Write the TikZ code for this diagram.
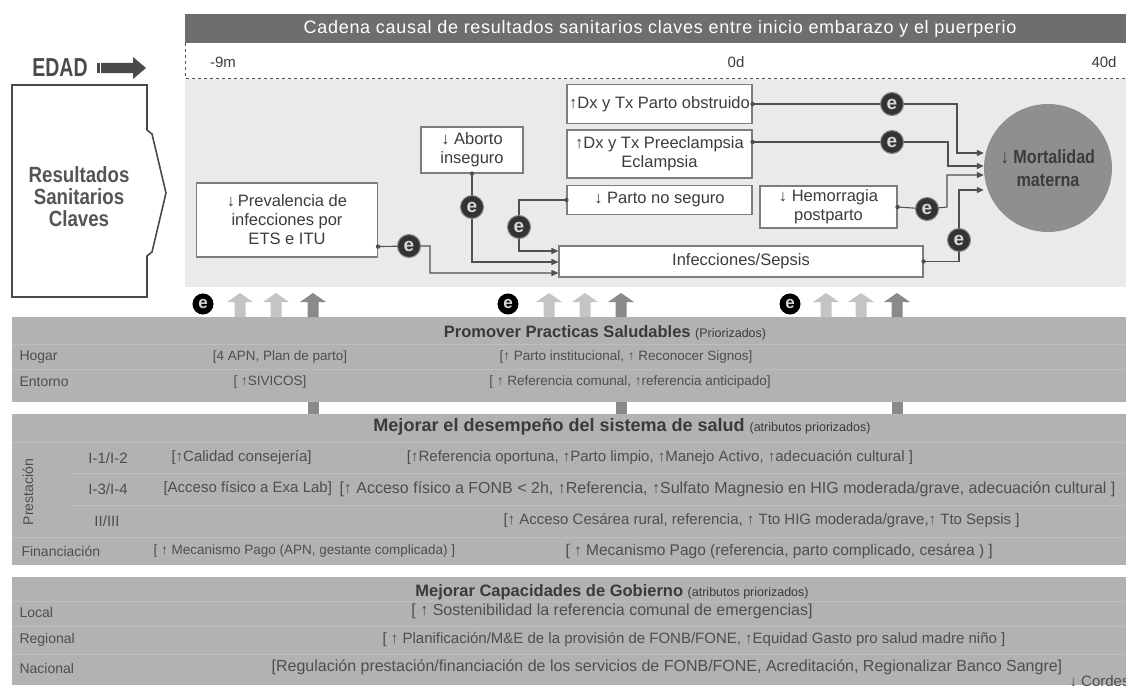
\documentclass[tikz,border=0pt]{standalone}
\usepackage{fontspec}
\setmainfont{Liberation Sans}
\newfontfamily\condfont[FakeStretch=0.75]{Liberation Sans}
\newfontfamily\resfont[FakeStretch=0.85]{Liberation Sans}
\usetikzlibrary{arrows.meta,calc}

\definecolor{barra}{HTML}{6E6E6E}
\definecolor{fondosup}{HTML}{EAEAEA}
\definecolor{bordecaja}{HTML}{7D7D7D}
\definecolor{textocaja}{HTML}{3C3C3C}
\definecolor{conector}{HTML}{505050}
\definecolor{ecolor}{HTML}{333333}
\definecolor{eletra}{HTML}{D8D8D8}
\definecolor{mortcolor}{HTML}{8F8F8F}
\definecolor{panelgris}{HTML}{B2B2B2}
\definecolor{lineafila}{HTML}{BEBEBE}
\definecolor{titulogris}{HTML}{3A3A3A}
\definecolor{textofila}{HTML}{4E4E4E}
\definecolor{flechaclara}{HTML}{C4C4C4}
\definecolor{flechaoscura}{HTML}{8A8A8A}
\definecolor{resborde}{HTML}{4A4A4A}
\definecolor{restexto}{HTML}{555555}
\newcommand{\prio}[1]{{\mdseries\fontsize{12.5}{12.5}\selectfont #1}}

\begin{document}
\begin{tikzpicture}[x=1pt,y=-1pt,>={Triangle[length=7pt,width=6pt]},
	caja/.style={draw=bordecaja,fill=white,line width=1.1pt,align=center,inner sep=2pt,text=textocaja,font=\fontsize{16.5}{19}\selectfont},
	enodo/.style={circle,fill=ecolor,draw=ecolor!60!white,line width=1pt,minimum size=23pt,inner sep=0pt,text=eletra,font=\bfseries\fontsize{19}{19}\selectfont},
	epeq/.style={enodo,fill=black,draw=black,minimum size=20pt,font=\bfseries\fontsize{17}{17}\selectfont},
	conn/.style={draw=conector,line width=1.1pt},
	fila/.style={text=textofila,font=\fontsize{15}{15}\selectfont},
	filap/.style={text=textofila,font=\fontsize{13.5}{13.5}\selectfont},
	etiq/.style={anchor=west,text=textofila,font=\fontsize{14}{14}\selectfont},
	titulo/.style={text=titulogris,font=\bfseries\fontsize{16.5}{16.5}\selectfont}]
	\useasboundingbox (0,0) rectangle (1126,685);
	% cabecera y linea de tiempo
	\fill[barra] (185,14) rectangle (1126,43);
	\node[text=white,font=\fontsize{18}{18}\selectfont\addfontfeature{LetterSpace=4}] (cadena) at (660,28.5) {Cadena causal de resultados sanitarios claves entre inicio embarazo y el puerperio};
	\draw[conector,dashed,line width=0.8pt] (185,43) -- (185,78) -- (1126,78);
	\node[text=textocaja,font=\fontsize{15}{15}\selectfont] (t9m) at (223,62) {-9m};
	\node[text=textocaja,font=\fontsize{15}{15}\selectfont] (t0d) at (736,62) {0d};
	\node[text=textocaja,font=\fontsize{15}{15}\selectfont] (t40d) at (1104,62) {40d};
	\fill[fondosup] (185,79) rectangle (1126,287);
	% edad y resultados
	\node[text=resborde,font=\condfont\bfseries\fontsize{26}{26}\selectfont] (edad) at (60,68) {EDAD};
	\fill[resborde] (97,63) rectangle (99.5,73);
	\fill[resborde] (101,63) -- (133,63) -- (133,57) -- (146,68) -- (133,79) -- (133,73) -- (101,73) -- cycle;
	\draw[draw=resborde,fill=white,line width=1.6pt] (12,85) -- (147,85) -- (147,130) -- (152,134) -- (166,193) -- (152,252) -- (147,256) -- (147,297) -- (12,297) -- cycle;
	\node[text=restexto,align=center,font=\resfont\bfseries\fontsize{22}{22}\selectfont] (result) at (79,197) {Resultados\\Sanitarios\\Claves};
	% cajas de la cadena causal
	\node[caja,minimum width=181,minimum height=74] (prev) at (287,220) {↓\,Prevalencia de\\infecciones por\\ETS e ITU};
	\node[caja,minimum width=102,minimum height=46] (abort) at (472,150) {↓ Aborto\\inseguro};
	\node[caja,minimum width=185,minimum height=39] (obstr) at (659.5,104) {↑Dx y Tx Parto obstruido};
	\node[caja,minimum width=185,minimum height=48] (preec) at (659.5,154) {↑Dx y Tx Preeclampsia\\Eclampsia};
	\node[caja,minimum width=185,minimum height=29] (noseg) at (659.5,200) {↓ Parto no seguro};
	\node[caja,minimum width=137,minimum height=42] (hemo) at (828.5,207) {↓ Hemorragia\\postparto};
	\node[caja,minimum width=364,minimum height=31] (infec) at (741,261.5) {Infecciones/Sepsis};
	\node[circle,fill=mortcolor,minimum size=128,inner sep=0pt,align=center,text=textocaja,font=\resfont\bfseries\fontsize{19}{23}\selectfont] (mort) at (1048,168) {↓ Mortalidad\\materna};
	% nodos e
	\node[enodo] (e1) at (409,246) {e};
	\node[enodo] (e2) at (472,207) {e};
	\node[enodo] (e3) at (519,227) {e};
	\node[enodo] (e4) at (892,104) {e};
	\node[enodo] (e5) at (892,142) {e};
	\node[enodo] (e6) at (927,209) {e};
	\node[enodo] (e7) at (959,240) {e};
	% conectores
	\coordinate (p1) at ($(prev.south east)+(0,-11)$);
	\coordinate (p5) at ($(preec.east)+(0,-12)$);
	\coordinate (c1a) at (430,246);
	\coordinate (c1b) at (430,273);
	\coordinate (c2) at (472,262);
	\coordinate (c3a) at (519,200);
	\coordinate (c3b) at (519,251);
	\coordinate (c4a) at (957,104);
	\coordinate (c4b) at (957,153);
	\coordinate (c5a) at (948,142);
	\coordinate (c5b) at (948,166);
	\coordinate (c6a) at (947,207);
	\coordinate (c6b) at (947,175);
	\coordinate (c7a) at (959,261.5);
	\coordinate (c7b) at (959,190);
	\draw[conn,->] (p1) -- (e1) -- (c1a) -- (c1b) -- (infec.west |- c1b);
	\draw[conn,->] (abort.south) -- (e2) -- (c2) -- (infec.west |- c2);
	\draw[conn,->] (noseg.west) -- (c3a) -- (e3) -- (c3b) -- (infec.west |- c3b);
	\draw[conn,->] (obstr.east) -- (e4) -- (c4a) -- (c4b) -- (c4b -| mort.west);
	\draw[conn,->] (p5) -- (e5) -- (c5a) -- (c5b) -- (c5b -| mort.west);
	\draw[conn,->] (hemo.east) -- (e6) -- (c6a) -- (c6b) -- (c6b -| mort.west);
	\draw[conn,->] (infec.east) -- (c7a) -- (e7) -- (c7b) -- (c7b -| mort.west);
	\foreach \p in {p1,abort.south,noseg.west,obstr.east,p5,hemo.east,infec.east}
		\fill[conector] (\p) circle (2.2);
	% paneles inferiores
	\fill[panelgris] (12,317) rectangle (1126,402);
	\fill[panelgris] (12,414) rectangle (1126,565);
	\fill[panelgris] (12,577) rectangle (1126,685);
	\draw[lineafila,line width=0.8pt] (12,344) -- (1126,344) (12,369) -- (1126,369)
		(12,442) -- (1126,442) (73,473) -- (1126,473) (73,505) -- (1126,505) (12,537) -- (1126,537)
		(12,601) -- (1126,601) (12,626) -- (1126,626) (12,654) -- (1126,654);
	% flechas hacia arriba
	\foreach \ax/\ac in {240/flechaclara,276/flechaclara,313/flechaoscura,549/flechaclara,585/flechaclara,621/flechaoscura,826/flechaclara,861/flechaclara,897/flechaoscura}
		\fill[\ac] (\ax-5.5,317) -- (\ax-5.5,302) -- (\ax-13,302) -- (\ax,293) -- (\ax+13,302) -- (\ax+5.5,302) -- (\ax+5.5,317) -- cycle;
	\foreach \ax in {313,621,897}
		\fill[flechaoscura] (\ax-5.5,402) rectangle (\ax+5.5,414);
	\node[epeq] (eb1) at (203,304) {e};
	\node[epeq] (eb2) at (508,304) {e};
	\node[epeq] (eb3) at (790,304) {e};
	% textos panel 1
	\node[titulo] (tit1) at (605,333) {Promover Practicas Saludables \prio{(Priorizados)}};
	\node[etiq] (hogar) at (16,357) {Hogar};
	\node[filap] (hog1) at (280,357) {[4 APN, Plan de parto]};
	\node[filap] (hog2) at (626,357) {[↑ Parto institucional, ↑ Reconocer Signos]};
	\node[etiq] (entorno) at (16,382) {Entorno};
	\node[filap] (ent1) at (270,382) {[ ↑SIVICOS]};
	\node[filap] (ent2) at (630,382) {[ ↑ Referencia comunal, ↑referencia anticipado]};
	% textos panel 2
	\node[titulo,font=\bfseries\fontsize{18}{18}\selectfont] (tit2) at (622,427) {Mejorar el desempeño del sistema de salud \prio{(atributos priorizados)}};
	\node[etiq,rotate=90,anchor=center] (prest) at (28,492) {Prestación};
	\node[fila] (n12) at (108,458) {I-1/I-2};
	\node[fila,anchor=west] (n12a) at (168,458) {[↑Calidad consejería]};
	\node[fila] (n12b) at (660,458) {[↑Referencia oportuna, ↑Parto limpio, ↑Manejo Activo, ↑adecuación cultural ]};
	\node[fila] (n34) at (108,489) {I-3/I-4};
	\node[fila,anchor=west] (n34a) at (160,489) {[Acceso físico a  Exa Lab]};
	\node[fila,anchor=west,font=\fontsize{16}{16}\selectfont] (n34b) at (336,489) {[↑ Acceso físico a FONB < 2h, ↑Referencia, ↑Sulfato Magnesio en HIG moderada/grave, adecuación cultural ]};
	\node[fila] (n23) at (107,521) {II/III};
	\node[fila,anchor=west] (n23a) at (500,521) {[↑ Acceso Cesárea rural, referencia, ↑ Tto HIG moderada/grave,↑ Tto Sepsis ]};
	\node[etiq] (financ) at (18,551) {Financiación};
	\node[filap,anchor=west] (fin1) at (150,551) {[ ↑ Mecanismo Pago (APN, gestante complicada) ]};
	\node[fila,anchor=west,font=\fontsize{15.5}{15.5}\selectfont] (fin2) at (562,551) {[ ↑ Mecanismo Pago (referencia, parto complicado, cesárea ) ]};
	% textos panel 3
	\node[titulo] (tit3) at (612,592) {Mejorar Capacidades de Gobierno \prio{(atributos priorizados)}};
	\node[etiq] (local) at (16,612) {Local};
	\node[fila,font=\fontsize{16}{16}\selectfont] (loc1) at (612,611) {[ ↑ Sostenibilidad la referencia comunal de emergencias]};
	\node[etiq] (regional) at (16,640) {Regional};
	\node[fila] (reg1) at (694,640) {[ ↑ Planificación/M\&E de la provisión de FONB/FONE, ↑Equidad Gasto pro salud madre niño ]};
	\node[etiq] (nacional) at (16,668) {Nacional};
	\node[fila,font=\fontsize{16}{16}\selectfont] (nac1) at (667,667) {[Regulación prestación/financiación de los servicios de FONB/FONE, Acreditación, Regionalizar Banco Sangre]};
	\node[fila,anchor=west] (cordes) at (1066,681) {↓ Cordes};
\end{tikzpicture}
\end{document}
